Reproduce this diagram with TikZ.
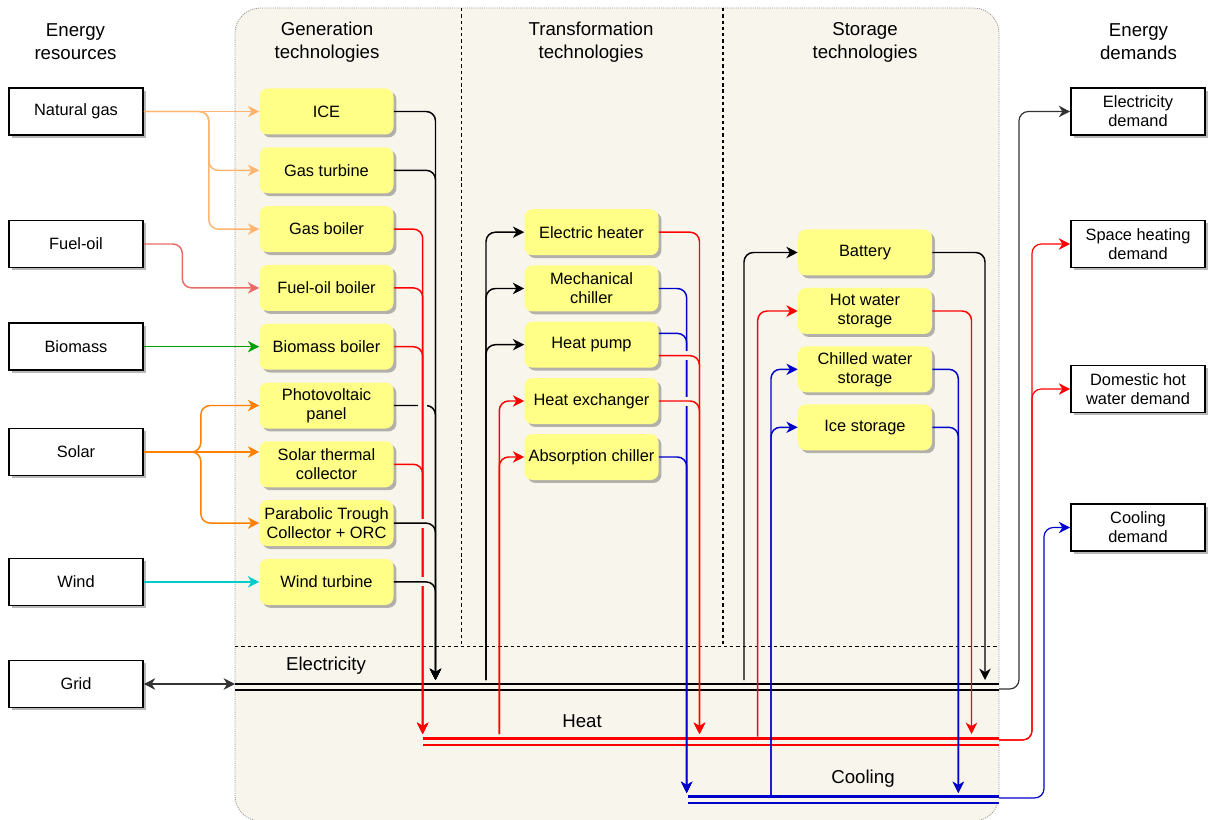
\documentclass[tikz,border=0pt]{standalone}
\usepackage{fontspec}
\setmainfont{Liberation Sans}
\usetikzlibrary{arrows.meta,shadows,calc}

\definecolor{panel}{HTML}{F8F5EC}
\definecolor{techfill}{HTML}{FFFF88}
\definecolor{gasc}{HTML}{FFB570}
\definecolor{oilc}{HTML}{EA6B66}
\definecolor{bioc}{HTML}{00A000}
\definecolor{solc}{HTML}{FF8000}
\definecolor{windc}{HTML}{00CCCC}
\definecolor{heatc}{HTML}{FF0000}
\definecolor{coolc}{HTML}{0000CC}
\definecolor{linkc}{HTML}{333333}

\begin{document}
\begin{tikzpicture}[x=0.75pt, y=-0.75pt,
  font=\fontsize{12.3}{14.3}\selectfont,
  boxshadow/.style={drop shadow={shadow xshift=2.2pt, shadow yshift=-2.2pt, fill=black, opacity=0.28}},
  extbox/.style={draw=black, line width=1.2pt, fill=white, minimum width=100.5pt,
    minimum height=35.25pt, align=center, inner sep=1pt, boxshadow},
  techbox/.style={fill=techfill, rounded corners=6pt, minimum width=100.5pt,
    minimum height=34.5pt, align=center, inner sep=1pt, boxshadow},
  hdr/.style={font=\fontsize{14}{17.25}\selectfont, align=center},
  buslbl/.style={font=\fontsize{14}{17}\selectfont},
  flow/.style={line width=1.1pt, rounded corners=7pt, -{Stealth[length=8.5pt,width=8.5pt,inset=2.6pt]}},
  busline/.style={line width=1.9pt, double distance=2.8pt, double=panel},
  jump/.style={draw=panel, line width=2.6pt},
  divider/.style={line width=0.9pt, dash pattern=on 2.5pt off 2.2pt},
]
\useasboundingbox (0,0) rectangle (1208,820);

% technology panel
\draw[draw=gray!80, line width=0.6pt, dash pattern=on 0.8pt off 0.8pt, fill=panel,
  rounded corners=19pt] (235,8) rectangle (999,821);
\draw[divider] (461.5,8) -- (461.5,646.5);
\draw[divider] (723,8) -- (723,646.5);
\draw[divider] (235,646.5) -- (999,646.5);

% column headings
\node[hdr] (hres) at (75.5,42) {Energy\\resources};
\node[hdr] (hgen) at (327,42) {Generation\\technologies};
\node[hdr] (htra) at (591,42) {Transformation\\technologies};
\node[hdr] (hsto) at (865,42) {Storage\\technologies};
\node[hdr] (hdem) at (1138.5,42) {Energy\\demands};

% energy resources
\node[extbox] (ng)   at (76,111.5) {Natural gas};
\node[extbox] (fo)   at (76,244)   {Fuel-oil};
\node[extbox] (bm)   at (76,346.7) {Biomass};
\node[extbox] (sol)  at (76,452)   {Solar};
\node[extbox] (wind) at (76,581.9) {Wind};
\node[extbox] (grid) at (76,684)   {Grid};

% generation technologies
\node[techbox] (ice) at (326.5,111.5) {ICE};
\node[techbox] (gt)  at (326.5,170.3) {Gas turbine};
\node[techbox] (gb)  at (326.5,229.1) {Gas boiler};
\node[techbox] (fob) at (326.5,287.9) {Fuel-oil boiler};
\node[techbox] (bb)  at (326.5,346.7) {Biomass boiler};
\node[techbox] (pv)  at (326.5,405.5) {Photovoltaic\\panel};
\node[techbox] (stc) at (326.5,464.3) {Solar thermal\\collector};
\node[techbox] (ptc) at (326.5,523.1) {Parabolic Trough\\Collector + ORC};
\node[techbox] (wt)  at (326.5,581.9) {Wind turbine};

% transformation technologies
\node[techbox] (eh) at (591.5,232.2) {Electric heater};
\node[techbox] (mc) at (591.5,288.5) {Mechanical\\chiller};
\node[techbox] (hp) at (591.5,344.7) {Heat pump};
\node[techbox] (hx) at (591.5,401)   {Heat exchanger};
\node[techbox] (ac) at (591.5,457)   {Absorption chiller};

% storage technologies
\node[techbox] (bat)  at (865,252.5) {Battery};
\node[techbox] (hws)  at (865,311)   {Hot water\\storage};
\node[techbox] (cws)  at (865,369.3) {Chilled water\\storage};
\node[techbox] (ices) at (865,427.3) {Ice storage};

% energy demands
\node[extbox] (ed)  at (1138,111.5) {Electricity\\demand};
\node[extbox] (shd) at (1138,244)   {Space heating\\demand};
\node[extbox] (dhw) at (1138,389)   {Domestic hot\\water demand};
\node[extbox] (cd)  at (1138,527.5) {Cooling\\demand};

% buses
\coordinate (eL) at (235,687);   \coordinate (eR) at (999,687);
\coordinate (hL) at (422.7,741.7); \coordinate (hR) at (999,741.7);
\coordinate (cL) at (688,799.7); \coordinate (cR) at (999,799.7);
\draw[busline, draw=black] (eL) -- (eR);
\draw[busline, draw=heatc] (hL) -- (hR);
\draw[busline, draw=coolc] (cL) -- (cR);
\node[buslbl] (lelec) at (326,666) {Electricity};
\node[buslbl] (lheat) at (582,721) {Heat};
\node[buslbl] (lcool) at (863,779) {Cooling};

% bus taps
\coordinate (geIn)  at (435.5,680);
\coordinate (ghIn)  at (422.7,734);
\coordinate (teOut) at (486,680);
\coordinate (thOut) at (499.3,734);
\coordinate (thIn)  at (699.5,734);
\coordinate (tcIn)  at (686.7,793);
\coordinate (seOut) at (744,680);
\coordinate (shOut) at (757.7,736.5);
\coordinate (scOut) at (771,795);
\coordinate (seIn)  at (985,680);
\coordinate (shIn)  at (971.5,734);
\coordinate (scIn)  at (958.3,793);
\coordinate (eExit) at (999,689);
\coordinate (hExit) at (999,740);
\coordinate (cExit) at (999,798);
\coordinate (hpC) at ([yshift=8.5pt]hp.east);
\coordinate (hpH) at ([yshift=-8.25pt]hp.east);

% resources to generation
\draw[flow, gasc] (ng.east) -- (ice.west);
\draw[flow, gasc] (ng.east) -- ++(65,0) |- (gt.west);
\draw[flow, gasc] (ng.east) -- ++(65,0) |- (gb.west);
\draw[flow, oilc] (fo.east) -- ++(38.5,0) |- (fob.west);
\draw[flow, bioc] (bm.east) -- (bb.west);
\draw[flow, solc] (sol.east) -- ++(57,0) |- (pv.west);
\draw[flow, solc] (sol.east) -- (sol.east -| stc.west);
\draw[flow, solc] (sol.east) -- ++(57,0) |- (ptc.west);
\draw[flow, windc] (wind.east) -- (wt.west);
\draw[line width=1.1pt, linkc, {Stealth[length=8.5pt,width=8.5pt,inset=2.6pt]}-{Stealth[length=8.5pt,width=8.5pt,inset=2.6pt]}]
  (grid.east) -- (grid.east -| eL);

% generation outputs
\draw[flow] (pv.east) -| (geIn);
\draw[jump] ($(pv.east -| ghIn)+(-4.5,0)$) -- ++(9,0);
\draw[flow, heatc] (gb.east) -| (ghIn);
\draw[flow, heatc] (fob.east) -| (ghIn);
\draw[flow, heatc] (bb.east) -| (ghIn);
\draw[flow, heatc] (stc.east) -| (ghIn);
\draw[jump] ($(ptc.east -| ghIn)+(0,-4.5)$) -- ++(0,9);
\draw[jump] ($(wt.east -| ghIn)+(0,-4.5)$) -- ++(0,9);
\draw[flow] (ice.east) -| (geIn);
\draw[flow] (gt.east) -| (geIn);
\draw[flow] (ptc.east) -| (geIn);
\draw[flow] (wt.east) -| (geIn);

% transformation inputs
\draw[flow] (teOut) |- (eh.west);
\draw[flow] (teOut) |- (mc.west);
\draw[flow] (teOut) |- (hp.west);
\draw[flow, heatc] (thOut) |- (hx.west);
\draw[flow, heatc] (thOut) |- (ac.west);

% transformation outputs
\draw[flow, coolc] (mc.east) -| (tcIn);
\draw[flow, coolc] (hpC) -| (tcIn);
\draw[flow, coolc] (ac.east) -| (tcIn);
\draw[jump] ($(hpH -| tcIn)+(0,-4.5)$) -- ++(0,9);
\draw[jump] ($(hx.east -| tcIn)+(0,-4.5)$) -- ++(0,9);
\draw[flow, heatc] (eh.east) -| (thIn);
\draw[flow, heatc] (hpH) -| (thIn);
\draw[flow, heatc] (hx.east) -| (thIn);

% storage
\draw[flow] (seOut) |- (bat.west);
\draw[flow, heatc] (shOut) |- (hws.west);
\draw[flow, coolc] (scOut) |- (cws.west);
\draw[flow, coolc] (scOut) |- (ices.west);
\draw[flow] (bat.east) -| (seIn);
\draw[flow, heatc] (hws.east) -| (shIn);
\draw[flow, coolc] (cws.east) -| (scIn);
\draw[flow, coolc] (ices.east) -| (scIn);

% buses to demands
\draw[flow, linkc, line width=0.9pt] (eExit) -- ++(20,0) |- (ed.west);
\draw[flow, heatc, line width=0.9pt] (hExit) -- ++(33,0) |- (shd.west);
\draw[flow, heatc, line width=0.9pt] (hExit) -- ++(33,0) |- (dhw.west);
\draw[flow, coolc, line width=0.9pt] (cExit) -- ++(45,0) |- (cd.west);
\end{tikzpicture}
\end{document}
